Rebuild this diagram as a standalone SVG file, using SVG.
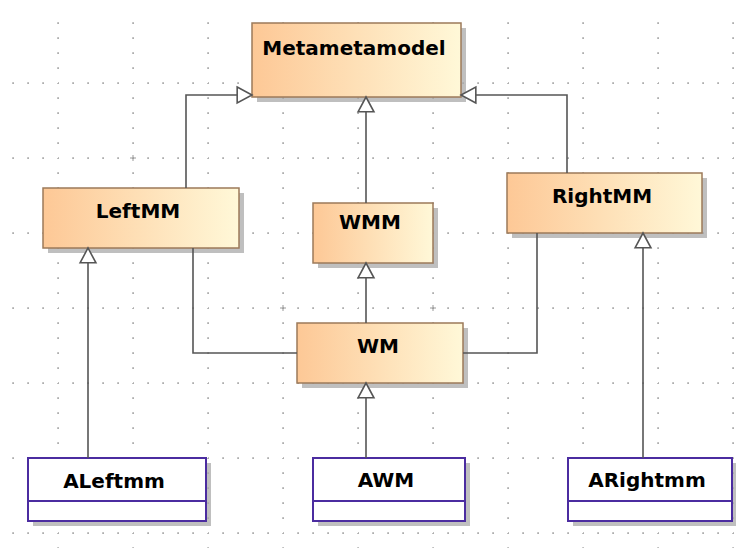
<svg xmlns="http://www.w3.org/2000/svg" width="736" height="548" viewBox="0 0 736 548">
<style>
.mm{stroke:#9c7a5a;stroke-width:1.5;fill:url(#g)}
.sh{fill:#a9a9a9;opacity:0.75}
.in{stroke:#4b2ca0;stroke-width:2;fill:#fff}
.lbl{font-family:"DejaVu Sans","Liberation Sans",sans-serif;font-weight:bold;font-size:20px;fill:#000;text-anchor:middle}
.c{fill:none;stroke:#555;stroke-width:1.6}
.cr{stroke:#999;stroke-width:1}
</style>
<defs>
<linearGradient id="g" x1="0" y1="0" x2="1" y2="0">
<stop offset="0" stop-color="#fdc896"/>
<stop offset="1" stop-color="#fff8d8"/>
</linearGradient>
<pattern id="grid" patternUnits="userSpaceOnUse" x="58" y="83" width="75" height="75">
<rect x="-0.7" y="-0.7" width="1.6" height="1.6" fill="#999"/>
<rect x="14.3" y="-0.7" width="1.6" height="1.6" fill="#999"/>
<rect x="29.3" y="-0.7" width="1.6" height="1.6" fill="#999"/>
<rect x="44.3" y="-0.7" width="1.6" height="1.6" fill="#999"/>
<rect x="59.3" y="-0.7" width="1.6" height="1.6" fill="#999"/>
<rect x="74.3" y="-0.7" width="1.6" height="1.6" fill="#999"/>
<rect x="-0.7" y="14.3" width="1.6" height="1.6" fill="#999"/>
<rect x="-0.7" y="29.3" width="1.6" height="1.6" fill="#999"/>
<rect x="-0.7" y="44.3" width="1.6" height="1.6" fill="#999"/>
<rect x="-0.7" y="59.3" width="1.6" height="1.6" fill="#999"/>
<rect x="74.3" y="14.3" width="1.6" height="1.6" fill="#999"/>
<rect x="74.3" y="29.3" width="1.6" height="1.6" fill="#999"/>
<rect x="74.3" y="44.3" width="1.6" height="1.6" fill="#999"/>
<rect x="74.3" y="59.3" width="1.6" height="1.6" fill="#999"/>
<rect x="-0.7" y="74.3" width="1.6" height="1.6" fill="#999"/>
<rect x="14.3" y="74.3" width="1.6" height="1.6" fill="#999"/>
<rect x="29.3" y="74.3" width="1.6" height="1.6" fill="#999"/>
<rect x="44.3" y="74.3" width="1.6" height="1.6" fill="#999"/>
<rect x="59.3" y="74.3" width="1.6" height="1.6" fill="#999"/>
</pattern>
<marker id="tri" markerUnits="userSpaceOnUse" markerWidth="18" markerHeight="20" viewBox="-1 -9 17 18" refX="14" refY="0" orient="auto">
<path d="M0,-7.5 L14,0 L0,7.5 Z" fill="#fff" stroke="#555" stroke-width="1.5"/>
</marker>
</defs>
<rect width="736" height="548" fill="#fff"/>
<rect x="5" y="16" width="731" height="532" fill="url(#grid)"/>
<g id="crosses">
<path class="cr" d="M130,158 H136 M133,155 V161 M280,308 H286 M283,305 V311 M430,308 H436 M433,305 V311"/>
</g>
<g id="Metametamodel">
<rect class="sh" x="257" y="28" width="209" height="74"/>
<rect class="mm" x="252" y="23" width="209" height="74"/>
<text class="lbl" x="354" y="55">Metametamodel</text>
</g>
<g id="LeftMM">
<rect class="sh" x="48" y="193" width="196" height="60"/>
<rect class="mm" x="43" y="188" width="196" height="60"/>
<text class="lbl" x="138" y="218">LeftMM</text>
</g>
<g id="WMM">
<rect class="sh" x="318" y="208" width="120" height="60"/>
<rect class="mm" x="313" y="203" width="120" height="60"/>
<text class="lbl" x="370" y="229">WMM</text>
</g>
<g id="RightMM">
<rect class="sh" x="512" y="178" width="195" height="60"/>
<rect class="mm" x="507" y="173" width="195" height="60"/>
<text class="lbl" x="602" y="203">RightMM</text>
</g>
<g id="WM">
<rect class="sh" x="302" y="328" width="166" height="60"/>
<rect class="mm" x="297" y="323" width="166" height="60"/>
<text class="lbl" x="378" y="353">WM</text>
</g>
<g id="ALeftmm">
<rect class="sh" x="33" y="463" width="178" height="63"/>
<rect class="in" x="28" y="458" width="178" height="63"/>
<line class="in" x1="28" y1="501" x2="206" y2="501"/>
<text class="lbl" x="114" y="488">ALeftmm</text>
</g>
<g id="AWM">
<rect class="sh" x="318" y="463" width="152" height="63"/>
<rect class="in" x="313" y="458" width="152" height="63"/>
<line class="in" x1="313" y1="501" x2="465" y2="501"/>
<text class="lbl" x="386" y="487">AWM</text>
</g>
<g id="ARightmm">
<rect class="sh" x="573" y="463" width="164" height="63"/>
<rect class="in" x="568" y="458" width="164" height="63"/>
<line class="in" x1="568" y1="501" x2="732" y2="501"/>
<text class="lbl" x="647" y="487">ARightmm</text>
</g>
<g id="connectors">
<path class="c" d="M186,188 V95 H252" marker-end="url(#tri)"/>
<path class="c" d="M366,203 V97" marker-end="url(#tri)"/>
<path class="c" d="M567,173 V95 H461" marker-end="url(#tri)"/>
<path class="c" d="M366,323 V263" marker-end="url(#tri)"/>
<path class="c" d="M193,248 V353 H297"/>
<path class="c" d="M537,233 V353 H463"/>
<path class="c" d="M88,458 V248" marker-end="url(#tri)"/>
<path class="c" d="M366,458 V383" marker-end="url(#tri)"/>
<path class="c" d="M643,458 V233" marker-end="url(#tri)"/>
</g>
</svg>
